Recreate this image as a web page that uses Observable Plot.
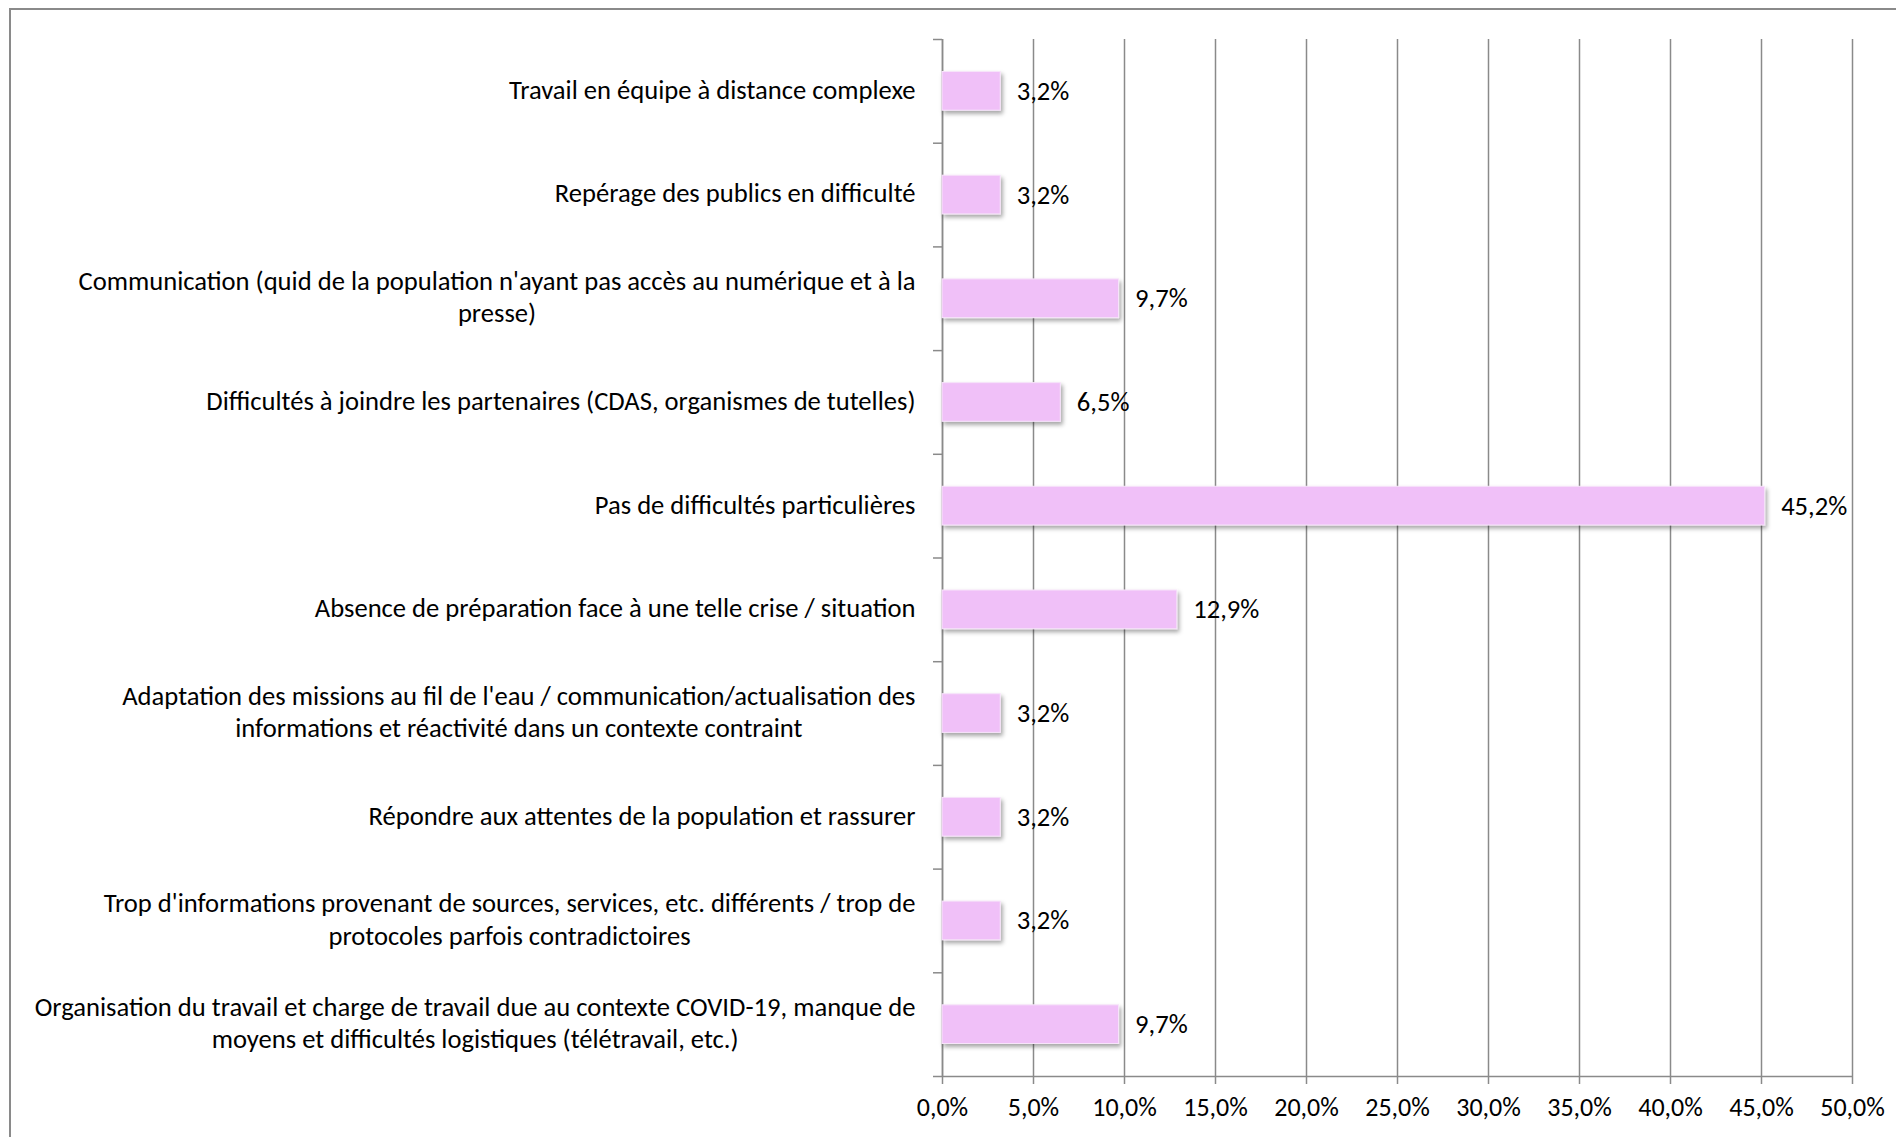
<!DOCTYPE html>
<html>
<head>
<meta charset="utf-8">
<script src="https://cdn.jsdelivr.net/npm/d3@7"></script>
<script src="https://cdn.jsdelivr.net/npm/@observablehq/plot@0.6"></script>
<style>
  html, body { margin: 0; padding: 0; background: #fff; overflow: hidden; }
  #wrap { position: relative; width: 1896px; height: 1137px; }
  #frame { position: absolute; left: 9px; top: 8px; width: 2000px; height: 2000px;
           border-left: 2px solid #8a8a8a; border-top: 2px solid #8a8a8a; pointer-events: none; }
  #chart { position: absolute; left: 0; top: 0; }
</style>
</head>
<body>
<div id="wrap"><div id="chart"></div><div id="frame"></div></div>
<script>
const categories = [
  "Travail en équipe à distance complexe",
  "Repérage des publics en difficulté",
  "Communication (quid de la population n'ayant pas accès au numérique et à la\npresse)",
  "Difficultés à joindre les partenaires (CDAS, organismes de tutelles)",
  "Pas de difficultés particulières",
  "Absence de préparation face à une telle crise / situation",
  "Adaptation des missions au fil de l'eau / communication/actualisation des\ninformations et réactivité dans un contexte contraint",
  "Répondre aux attentes de la population et rassurer",
  "Trop d'informations provenant de sources, services, etc. différents / trop de\nprotocoles parfois contradictoires",
  "Organisation du travail et charge de travail due au contexte COVID-19, manque de\nmoyens et difficultés logistiques (télétravail, etc.)"
];
const values = [3.2, 3.2, 9.7, 6.5, 45.2, 12.9, 3.2, 3.2, 3.2, 9.7];
const xTicks = [0, 5, 10, 15, 20, 25, 30, 35, 40, 45, 50];

const FONT = "Carlito, Lato, sans-serif";
const FS = 26.6;
const FS_TICK = 26;
const fmt = d => d.toFixed(1).replace(".", ",") + "%";

const data = categories.map((c, i) => ({i, category: c, value: values[i]}));

// measure widest line of each label so multi-line labels are centred like the original
const ctx = document.createElement("canvas").getContext("2d");
ctx.font = `${FS}px ${FONT}`;
const widest = s => d3.max(s.split("\n"), l => ctx.measureText(l).width);

const labelMarks = data.map(d =>
  Plot.text([d], {
    x: 0, y: d.i + 0.5, text: "category",
    textAnchor: "middle", lineAnchor: "middle", lineHeight: 1.22,
    dx: -27 - widest(d.category) / 2, dy: -3,
    fill: "#000", fontSize: FS, fontFamily: FONT
  })
);

const plot = Plot.plot({
  width: 1896,
  height: 1137,
  marginLeft: 942,
  marginRight: 44,
  marginTop: 39,
  marginBottom: 61,
  style: {fontFamily: FONT, fontSize: FS + "px", color: "#000", background: "transparent"},
  x: {domain: [0, 50]},
  y: {domain: [0, 10], reverse: true},
  marks: [
    Plot.gridX(xTicks, {stroke: "#8a8a8a", strokeOpacity: 1, strokeWidth: 1.5}),
    Plot.axisX({ticks: xTicks, tickFormat: fmt, tickSize: 8, tickPadding: 13,
                stroke: "#8a8a8a", strokeWidth: 1.5, fill: "#000", fontSize: FS_TICK, label: null}),
    Plot.axisY({ticks: d3.range(0, 11), tickFormat: () => "", tickSize: 9,
                stroke: "#8a8a8a", strokeWidth: 1.5, label: null}),
    Plot.ruleX([0], {stroke: "#8a8a8a", strokeWidth: 1.5}),
    Plot.ruleY([10], {stroke: "#8a8a8a", strokeWidth: 1.5}),
    Plot.rectX(data, {x1: 0, x2: "value", y1: "i", y2: d => d.i + 1,
                      insetTop: 32.5, insetBottom: 32.5,
                      fill: "#f0c0f8", stroke: "#f7e4fa", strokeWidth: 1}),
    Plot.text(data, {x: "value", y: d => d.i + 0.5, text: d => fmt(d.value),
                     dx: 16, textAnchor: "start", lineAnchor: "middle",
                     fill: "#000", fontSize: FS, fontFamily: FONT}),
    ...labelMarks
  ]
});

// soft drop shadow under the bars, as in the original
const svg = d3.select(plot);
const defs = svg.insert("defs", ":first-child");
defs.append("filter").attr("id", "barShadow")
  .attr("x", "-5%").attr("y", "-30%").attr("width", "115%").attr("height", "190%")
  .append("feDropShadow")
  .attr("dx", 2).attr("dy", 3).attr("stdDeviation", 2)
  .attr("flood-color", "#000").attr("flood-opacity", 0.35);
svg.selectAll("g[aria-label='rect']").attr("filter", "url(#barShadow)");

document.getElementById("chart").appendChild(plot);
</script>
</body>
</html>
